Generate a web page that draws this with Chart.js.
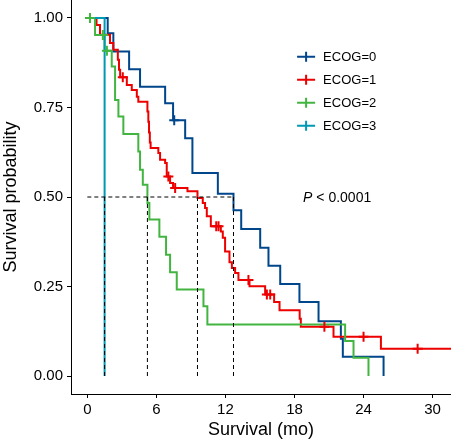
<!DOCTYPE html>
<html>
<head>
<meta charset="utf-8">
<script src="https://cdn.jsdelivr.net/npm/chart.js@4/dist/chart.umd.min.js"></script>
<style>
  html, body { margin: 0; padding: 0; background: #fff; }
  #c { display: block; }
</style>
</head>
<body>
<canvas id="c" width="451" height="442"></canvas>
<script>
// ---- Data ----
const seriesNames = ['ECOG=0', 'ECOG=1', 'ECOG=2', 'ECOG=3'];
const seriesColors = ['#00468B', '#ED0000', '#42B540', '#0099B4'];

// ECOG=0
const ecog0Time = [0, 1.77, 2.26, 3.63, 4.58, 6.76, 7.45, 8.5, 9.13, 11.34, 12.7, 13.37, 15.02, 15.74, 16.76, 18.43, 20.09, 22.03, 22.2, 25.74];
const ecog0Surv = [1, 0.957, 0.906, 0.857, 0.808, 0.762, 0.714, 0.664, 0.567, 0.509, 0.463, 0.411, 0.358, 0.308, 0.257, 0.207, 0.153, 0.104, 0.054, 0];
const ecog0CensorTime = [7.55];
const ecog0CensorSurv = [0.714];

// ECOG=1
const ecog1Time = [0, 0.8, 1.1, 1.97, 2.26, 2.65, 2.75, 2.85, 3.43, 3.86, 4.3, 4.43, 5.22, 5.3, 5.36, 5.43, 5.5, 6.17, 6.32, 6.76, 6.9, 7.19, 7.45, 8.7, 9.57, 10.03, 10.23, 10.38, 10.73, 11.6, 11.77, 11.97, 12.35, 12.56, 12.84, 13.13, 14.09, 15.45, 16.23, 16.7, 18.45, 18.55, 21.39, 25.51, 32];
const ecog1Surv = [1, 0.98, 0.953, 0.93, 0.911, 0.883, 0.855, 0.834, 0.813, 0.799, 0.78, 0.766, 0.739, 0.71, 0.68, 0.652, 0.637, 0.623, 0.604, 0.595, 0.557, 0.539, 0.525, 0.516, 0.497, 0.483, 0.469, 0.446, 0.418, 0.404, 0.386, 0.348, 0.318, 0.302, 0.288, 0.268, 0.251, 0.228, 0.207, 0.184, 0.16, 0.138, 0.110, 0.076, 0.076];
const ecog1CensorTime = [3.08, 7.04, 7.63, 11.2, 11.4, 14.0, 15.6, 15.89, 20.6, 24.0, 28.7];
const ecog1CensorSurv = [0.834, 0.557, 0.525, 0.418, 0.418, 0.268, 0.228, 0.228, 0.138, 0.110, 0.076];

// ECOG=2
const ecog2Time = [0, 0.67, 1.5, 2.12, 2.41, 2.7, 3.13, 4.43, 4.58, 4.82, 5.22, 5.39, 6.26, 6.84, 7.19, 7.77, 10.09, 10.43, 22.4, 23.13, 24.43];
const ecog2Surv = [1, 0.952, 0.908, 0.864, 0.771, 0.725, 0.676, 0.627, 0.576, 0.534, 0.483, 0.437, 0.389, 0.339, 0.29, 0.242, 0.195, 0.144, 0.098, 0.051, 0];
const ecog2CensorTime = [0.23, 1.35, 1.7];
const ecog2CensorSurv = [1, 0.952, 0.908];

// ECOG=3
const ecog3Time = [0, 1.5];
const ecog3Surv = [1, 0];

// Median survival times (dashed reference lines)
const medianTimes = [1.5, 5.22, 9.57, 12.7];
const medianLevel = 0.5;

// Axis ticks
const xTicks = [0, 6, 12, 18, 24, 30];
const yTicks = [0, 0.25, 0.5, 0.75, 1.0];

const pValueText = '< 0.0001';
const pValuePos = [18.75, 0.5];

// ---- Build datasets ----
const FONT = "'Liberation Sans', Arial, sans-serif";
const pts = (t, s) => t.map((v, i) => ({ x: v, y: s[i] }));

const curves = [
  [ecog0Time, ecog0Surv],
  [ecog1Time, ecog1Surv],
  [ecog2Time, ecog2Surv],
  [ecog3Time, ecog3Surv]
];
const censors = [
  [ecog0CensorTime, ecog0CensorSurv],
  [ecog1CensorTime, ecog1CensorSurv],
  [ecog2CensorTime, ecog2CensorSurv]
];

const datasets = [];
curves.forEach((c, i) => {
  datasets.push({
    label: seriesNames[i],
    data: pts(c[0], c[1]),
    borderColor: seriesColors[i],
    backgroundColor: seriesColors[i],
    borderWidth: 2,
    stepped: true,
    pointRadius: 0,
    fill: false,
    order: 10 - i
  });
});
censors.forEach((c, i) => {
  datasets.push({
    label: seriesNames[i] + ' censored',
    data: pts(c[0], c[1]),
    showLine: false,
    pointStyle: 'cross',
    pointRadius: 5,
    pointBorderWidth: 2,
    borderColor: seriesColors[i],
    backgroundColor: seriesColors[i],
    order: 3
  });
});
// dashed median lines
const maxMedian = Math.max(...medianTimes);
datasets.push({
  label: 'median h',
  data: [{ x: 0, y: medianLevel }, { x: maxMedian, y: medianLevel }],
  borderColor: '#000', borderWidth: 1, borderDash: [4, 3],
  pointRadius: 0, fill: false, order: 1
});
medianTimes.forEach(m => {
  datasets.push({
    label: 'median v',
    data: [{ x: m, y: medianLevel }, { x: m, y: 0 }],
    borderColor: '#000', borderWidth: 1, borderDash: [4, 3],
    pointRadius: 0, fill: false, order: 1
  });
});

// ---- Legend + p-value plugin ----
const overlay = {
  id: 'overlay',
  afterDraw(chart) {
    const { ctx, chartArea, scales } = chart;
    const w = chartArea.right - chartArea.left;
    const h = chartArea.bottom - chartArea.top;
    const lx = chartArea.left + 0.595 * w;
    const ly0 = chartArea.top + 0.144 * h;
    const gap = 23;
    ctx.save();
    seriesNames.forEach((name, i) => {
      const y = ly0 + i * gap;
      ctx.strokeStyle = seriesColors[i];
      ctx.lineWidth = 2;
      ctx.beginPath();
      ctx.moveTo(lx, y); ctx.lineTo(lx + 18, y);
      ctx.moveTo(lx + 9, y - 5); ctx.lineTo(lx + 9, y + 5);
      ctx.stroke();
      ctx.fillStyle = '#000';
      ctx.font = '13px ' + FONT;
      ctx.textAlign = 'left';
      ctx.textBaseline = 'middle';
      ctx.fillText(name, lx + 26, y + 1);
    });
    // p-value
    const px = scales.x.getPixelForValue(pValuePos[0]);
    const py = scales.y.getPixelForValue(pValuePos[1]);
    ctx.font = 'italic 14px ' + FONT;
    ctx.fillText('P', px, py + 1);
    const pw = ctx.measureText('P ').width;
    ctx.font = '14px ' + FONT;
    ctx.fillText(pValueText, px + pw, py + 1);
    ctx.restore();
  }
};

new Chart(document.getElementById('c'), {
  type: 'line',
  data: { datasets },
  plugins: [overlay],
  options: {
    responsive: false,
    animation: false,
    layout: { padding: 0, autoPadding: false },
    plugins: { legend: { display: false }, tooltip: { enabled: false } },
    scales: {
      x: {
        type: 'linear', min: -1.42, max: 31.6,
        afterBuildTicks: s => { s.ticks = xTicks.map(v => ({ value: v })); },
        afterFit: s => { s.height = 48; s.paddingLeft = 0; s.paddingRight = 0; },
        grid: { drawOnChartArea: false, drawTicks: true, tickLength: 4, color: '#000', tickWidth: 1 },
        border: { display: true, color: '#000', width: 1 },
        ticks: { color: '#000', font: { size: 15, family: FONT }, padding: 3, maxRotation: 0, autoSkip: false },
        title: { display: true, text: 'Survival (mo)', color: '#000', font: { size: 18, family: FONT }, padding: { top: 0, bottom: 1 } }
      },
      y: {
        type: 'linear', min: -0.05, max: 1.05,
        afterBuildTicks: s => { s.ticks = yTicks.map(v => ({ value: v })); },
        afterFit: s => { s.width = 71; s.paddingTop = 0; s.paddingBottom = 0; },
        grid: { drawOnChartArea: false, drawTicks: true, tickLength: 4, color: '#000', tickWidth: 1 },
        border: { display: true, color: '#000', width: 1 },
        ticks: { color: '#000', font: { size: 15, family: FONT }, padding: 4, callback: v => Number(v).toFixed(2), autoSkip: false },
        title: { display: true, text: 'Survival probability', color: '#000', font: { size: 18, family: FONT }, padding: { top: 0, bottom: 0 } }
      }
    }
  }
});
</script>
</body>
</html>
